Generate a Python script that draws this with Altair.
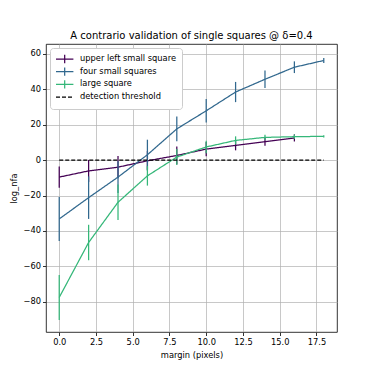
import altair as alt
import pandas as pd

series_names = ["upper left small square", "four small squares", "large square", "detection threshold"]
series_colors = ["#440154", "#31688e", "#35b779", "#000000"]

margin = [0, 2, 4, 6, 8, 10, 12, 14, 16, 18]

upper_left = [-9.6, -6.1, -4.0, -0.4, 2.6, 6.2, 8.3, 10.4, 12.5]
upper_left_err = [6.0, 6.2, 6.3, 5.5, 5.0, 4.0, 2.8, 2.3, 2.0]

four_small = [-33.2, -21.2, -9.6, 3.0, 17.6, 27.8, 38.4, 45.6, 52.4, 56.2]
four_small_err = [12.4, 12.0, 9.0, 8.5, 7.0, 6.6, 5.7, 4.9, 3.3, 1.4]

large = [-77.5, -46.5, -23.8, -8.9, 1.7, 7.4, 11.1, 12.8, 13.2, 13.4]
large_err = [12.7, 10.0, 10.0, 5.5, 4.5, 3.5, 2.3, 1.5, 1.2, 0.6]

threshold_x = [0, 18]
threshold_y = [0, 0]

x_ticks = [0, 2.5, 5, 7.5, 10, 12.5, 15, 17.5]
y_ticks = [-80, -60, -40, -20, 0, 20, 40, 60]

font = "DejaVu Sans"

def frame(name, ys, errs):
    xs = margin[: len(ys)]
    return pd.DataFrame({
        "margin": xs,
        "log_nfa": ys,
        "lo": [v - e for v, e in zip(ys, errs)],
        "hi": [v + e for v, e in zip(ys, errs)],
        "series": name,
    })

color_scale = alt.Scale(domain=series_names, range=series_colors)
dash_scale = alt.Scale(domain=series_names, range=[[1, 0], [1, 0], [1, 0], [4, 2]])
err_symbol = "M-1,0L3.35,0M1.17,-1.04L1.17,1.04"
shape_scale = alt.Scale(domain=series_names, range=[
    err_symbol, err_symbol, err_symbol, "M-1,0L3.35,0",
])

xs = alt.Scale(domain=[-0.9, 18.9], nice=False, zero=False)
ys = alt.Scale(domain=[-97, 65.5], nice=False, zero=False)

x_enc = alt.X("margin:Q", scale=xs, title="margin (pixels)",
              axis=alt.Axis(values=x_ticks, format=".1f"))
y_enc = alt.Y("log_nfa:Q", scale=ys, title="log_nfa",
              axis=alt.Axis(values=y_ticks, format="d"))

legend = alt.Legend(title=None, orient="top-left", offset=4)

layers = []
for name, vals, errs in [
    (series_names[0], upper_left, upper_left_err),
    (series_names[1], four_small, four_small_err),
    (series_names[2], large, large_err),
]:
    df = frame(name, vals, errs)
    base = alt.Chart(df)
    bars = base.mark_rule(strokeWidth=1.25).encode(
        x=x_enc, y=alt.Y("lo:Q", scale=ys), y2="hi:Q",
        color=alt.Color("series:N", scale=color_scale, legend=legend),
    )
    line = base.mark_line(strokeWidth=1.25).encode(
        x=x_enc, y=y_enc,
        color=alt.Color("series:N", scale=color_scale, legend=legend),
        strokeDash=alt.StrokeDash("series:N", scale=dash_scale, legend=legend),
    )
    layers += [bars, line]

thr = pd.DataFrame({"margin": threshold_x, "log_nfa": threshold_y, "series": series_names[3]})
thr_line = alt.Chart(thr).mark_line(strokeWidth=1.25).encode(
    x=x_enc, y=y_enc,
    color=alt.Color("series:N", scale=color_scale, legend=legend),
    strokeDash=alt.StrokeDash("series:N", scale=dash_scale, legend=legend),
)
layers.append(thr_line)

# invisible points only to give the legend its errorbar-like symbols
all_df = pd.concat([frame(series_names[0], upper_left, upper_left_err),
                    frame(series_names[1], four_small, four_small_err),
                    frame(series_names[2], large, large_err), thr], ignore_index=True)
pts = alt.Chart(all_df).mark_point(opacity=0, filled=False).encode(
    x=x_enc, y=y_enc,
    color=alt.Color("series:N", scale=color_scale, legend=legend),
    strokeDash=alt.StrokeDash("series:N", scale=dash_scale, legend=legend),
    shape=alt.Shape("series:N", scale=shape_scale, legend=legend),
)
layers.append(pts)

chart = alt.layer(*layers).properties(
    width=291,
    height=288,
    title=alt.TitleParams("A contrario validation of single squares @ δ=0.4",
                          font=font, fontSize=10, fontWeight="normal",
                          anchor="middle", offset=3, color="black"),
    autosize=alt.AutoSizeParams(type="none"),
    padding={"left": 38, "top": 36, "right": 20, "bottom": 30},
).configure_view(
    stroke="black", strokeWidth=0.8
).configure_axis(
    labelFont=font, titleFont=font, labelFontSize=8.3, titleFontSize=8.3,
    labelColor="black", titleColor="black", titleFontWeight="normal",
    domain=False, tickColor="black", tickSize=3.5, tickWidth=0.8,
    gridColor="#b0b0b0", gridWidth=0.7, labelPadding=2,
).configure_axisX(titlePadding=5).configure_axisY(titlePadding=4).configure_legend(
    labelFont=font, labelFontSize=8.3, labelColor="black",
    fillColor="white", strokeColor="#cccccc", cornerRadius=3, padding=5,
    symbolSize=64, symbolStrokeWidth=1.25, symbolOpacity=1, symbolFillColor="transparent",
    rowPadding=0.7, labelOffset=15, clipHeight=12,
)

chart.save("out.html", embed_options={"renderer": "svg", "actions": False})
